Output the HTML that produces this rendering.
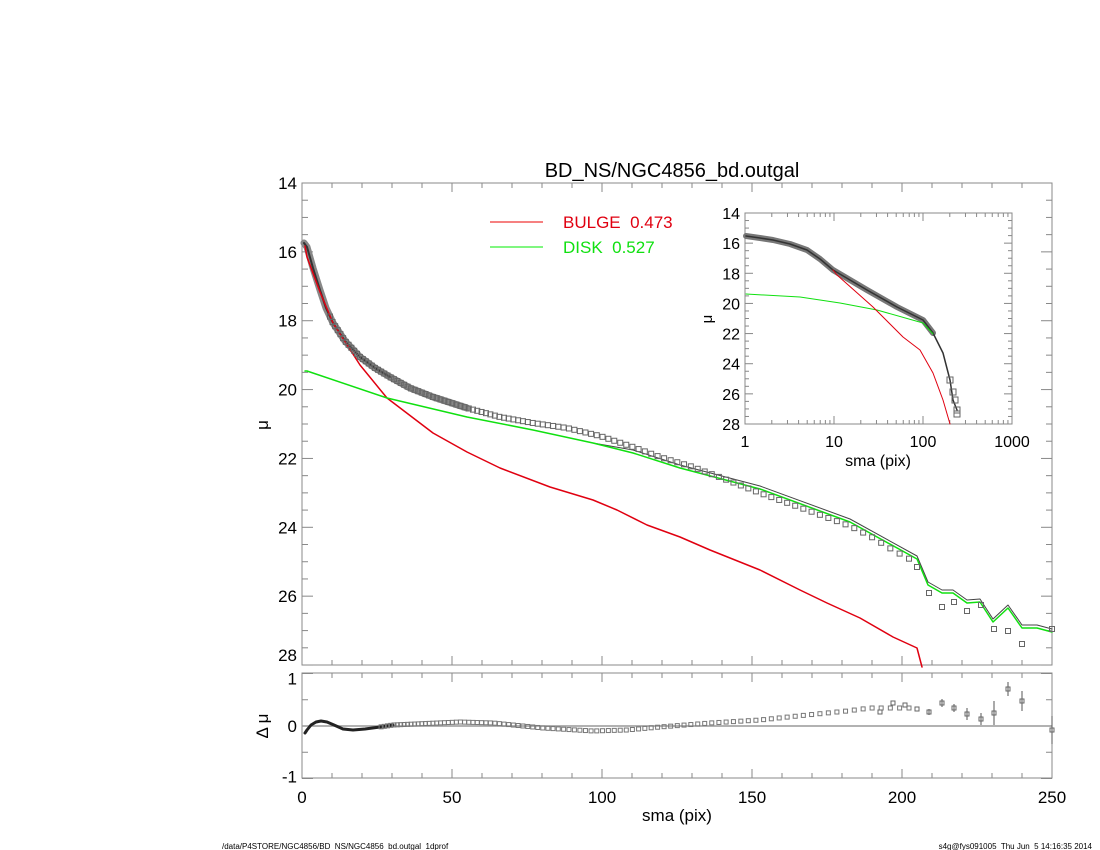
<!DOCTYPE html>
<html><head><meta charset="utf-8"><style>
html,body{margin:0;padding:0;background:#fff;}
svg{display:block;font-family:"Liberation Sans",sans-serif;}
text{white-space:pre;}
</style></head><body>
<svg id="s" width="1100" height="850" xmlns="http://www.w3.org/2000/svg">
<text x="672" y="177" font-size="20" text-anchor="middle">BD_NS/NGC4856_bd.outgal</text>
<line x1="490" y1="222" x2="543" y2="222" stroke="#e00" stroke-width="1"/>
<text x="563" y="228" font-size="17" fill="#e00010" xml:space="preserve">BULGE  0.473</text>
<line x1="490" y1="247" x2="543" y2="247" stroke="#0e0" stroke-width="1"/>
<text x="563" y="253" font-size="17" fill="#10e010" xml:space="preserve">DISK  0.527</text>
<text x="677" y="821" font-size="17" text-anchor="middle">sma (pix)</text>
<text transform="translate(268,425) rotate(-90)" font-size="17" text-anchor="middle">μ</text>
<text transform="translate(268,726) rotate(-90)" font-size="17" text-anchor="middle" xml:space="preserve">Δ μ</text>
<text x="878" y="466" font-size="16" text-anchor="middle">sma (pix)</text>
<text transform="translate(712,319) rotate(-90)" font-size="15" text-anchor="middle">μ</text>
<text x="222" y="849" font-size="8">/data/P4STORE/NGC4856/BD_NS/NGC4856_bd.outgal_1dprof</text>
<text x="1092" y="849" font-size="8" text-anchor="end" xml:space="preserve">s4g@fys091005  Thu Jun  5 14:16:35 2014</text>
<g id="g"></g>
</svg>
<script>
var g=document.getElementById('g'),NS='http://www.w3.org/2000/svg';
function el(t,a){var e=document.createElementNS(NS,t);for(var k in a)e.setAttribute(k,a[k]);g.appendChild(e);return e;}
function ln(x1,y1,x2,y2,c,w){el('line',{x1:x1,y1:y1,x2:x2,y2:y2,stroke:c||'#888','stroke-width':w||1});}
function tx(x,y,s,sz,anc){var e=el('text',{x:x,y:y,'font-size':sz,'text-anchor':anc||'middle'});e.textContent=s;}
function pl(pts,c,w,op){el('polyline',{points:pts.map(function(p){return p.join(',')}).join(' '),fill:'none',stroke:c,'stroke-width':w,'stroke-linejoin':'round','stroke-linecap':'round',opacity:op||1});}
function interp(pts,x){for(var i=0;i<pts.length-1;i++){if(x<=pts[i+1][0]){var a=pts[i],b=pts[i+1];return a[1]+(b[1]-a[1])*(x-a[0])/(b[0]-a[0]);}}return pts[pts.length-1][1];}
var L=302,R=1052,T=183,B=665,RT=673,RB=778;
el('rect',{x:L,y:T,width:R-L,height:B-T,fill:'none',stroke:'#888'});
el('rect',{x:L,y:RT,width:R-L,height:RB-RT,fill:'none',stroke:'#888'});
for(var v=0;v<=250;v+=10){var x=L+v*3,m=v%50==0,h=m?9:5;
 ln(x,B,x,B-h);ln(x,T,x,T+h);ln(x,RB,x,RB-h);ln(x,RT,x,RT+h);
 if(m)tx(x,803,String(v),17);}
for(var v=14;v<=28.001;v+=0.5){var y=T+(v-14)*34.43,m=Math.abs(v-Math.round(v/2)*2)<0.01,h=m?11:6;
 ln(L,y,L+h,y);ln(R,y,R-h,y);if(m)tx(297,(v>27.9?y-4:y+6),String(v),17,'end');}
for(var v=-1;v<=1;v+=0.5){var y=726-v*52.5,m=v%1==0,h=m?11:6;ln(L,y,L+h,y);ln(R,y,R-h,y);if(m)tx(297,(v==1?y+11:(v==-1?y+4:y+6)),String(v),17,'end');}
ln(L,726,R,726,'#999',1.5);
var red=[[305,246],[307,257],[320,292],[333,323],[360,365],[387,398],[433,433],[467,452],[500,468],[550,487],[593,500],[617,510],[647,525],[680,537],[710,550],[760,570],[800,590],[827,603],[860,618],[893,637],[917,648],[922,667]];
var grn=[[305,371],[307,371],[387,398],[467,417],[533,430],[593,443],[633,453],[680,468],[760,489],[850,522],[917,559],[928,585],[942,593],[953,593],[967,603],[980,602],[993,622],[1008,608],[1022,628],[1037,628],[1052,632]];
var obs=[[304,243],[307,247],[313,268],[320,290],[326,308],[333,323],[345,341],[360,357],[375,368],[390,377],[410,388],[433,397],[467,408],[500,417],[533,423],[567,428],[600,436],[633,447],[660,457],[693,467],[727,480],[760,493],[807,510],[850,526],[870,536],[893,550],[917,563]];
var mdl=grn.map(function(p){return [p[0],p[1]-(p[0]>600?3:0)];});
pl(obs.filter(function(p){return p[0]<=470}),'#888',7);
pl(obs.filter(function(p){return p[0]<=400}),'#333',2);
pl(mdl.filter(function(p){return p[0]>560}),'#444',1);
pl(red,'#e00010',1.5);pl(grn,'#10e010',1.5);
var xs=[];for(var x=330;x<917;){xs.push(x);x+=Math.max(2,(x-300)*0.012+2.2);}
xs.forEach(function(x){el('rect',{x:x-2.5,y:interp(obs,x)-2.5,width:5,height:5,fill:'none',stroke:'#666','stroke-width':1});});
[[917,567],[929,593],[942,607],[954,602],[967,611],[981,605],[994,629],[1008,631],[1022,644],[1052,629]].forEach(function(p){el('rect',{x:p[0]-2.5,y:p[1]-2.5,width:5,height:5,fill:'none',stroke:'#666'});});
var res=[[305,733],[307,730],[311,725],[316,722],[321,721],[327,722],[334,725],[343,729],[353,730],[365,729],[380,727],[393,725],[460,722],[493,723],[543,728],[593,731],[627,730],[660,727],[710,723],[760,720],[807,715],[847,711],[870,708]];
pl(res.filter(function(p){return p[0]<=400}),'#222',3);
xs.forEach(function(x){if(x>380)el('rect',{x:x-2,y:interp(res,x)-2,width:4,height:4,fill:'none',stroke:'#777'});});
[[880,712,1],[893,703,1],[905,705,1],[917,709,2],[929,712,3],[942,703,4],[954,708,4],[967,714,6],[981,719,6],[994,713,12],[1008,689,7],[1022,701,10],[1052,730,14]].forEach(function(p){if(p[2]>2)ln(p[0],p[1]-p[2],p[0],p[1]+p[2],'#555');el('rect',{x:p[0]-2,y:p[1]-2,width:4,height:4,fill:'none',stroke:'#666'});});
var IL=745,IR=1012,IT=213,IB=424,dec=(IR-IL)/3,uy=(IB-IT)/14;
el('rect',{x:IL,y:IT,width:IR-IL,height:IB-IT,fill:'#fff',stroke:'#888'});
for(var d=0;d<3;d++)for(var k=1;k<10;k++){var x=IL+(d+Math.log10(k))*dec,h=k==1?8:4;ln(x,IB,x,IB-h);ln(x,IT,x,IT+h);}
['1','10','100','1000'].forEach(function(s,i){tx(IL+i*dec,447,s,16);});
for(var v=14;v<=28.001;v+=0.5){var y=IT+(v-14)*uy,m=Math.abs(v-Math.round(v/2)*2)<0.01,h=m?8:4;ln(IL,y,IL+h,y);ln(IR,y,IR-h,y);if(m)tx(740,y+6,String(v),16,'end');}
var iob=[[746,236],[760,238],[773,240],[790,244],[807,250],[820,259],[833,270],[850,280],[867,290],[897,307],[923,320],[933,333],[943,353],[950,380],[953,400],[957,410]];
pl(iob.slice(0,12),'#777',6);pl(iob,'#333',1.5);
[[950,380],[953,392],[955,400],[957,410],[957,414]].forEach(function(p){el('rect',{x:p[0]-3,y:p[1]-3,width:6,height:6,fill:'none',stroke:'#666'});});
pl([[746,294],[800,297],[840,303],[877,310],[923,323],[933,334]],'#10e010',1);
pl([[833,270],[837,275],[873,307],[903,337],[920,350],[933,373],[943,400],[950,424]],'#e00010',1);
</script>
</body></html>
